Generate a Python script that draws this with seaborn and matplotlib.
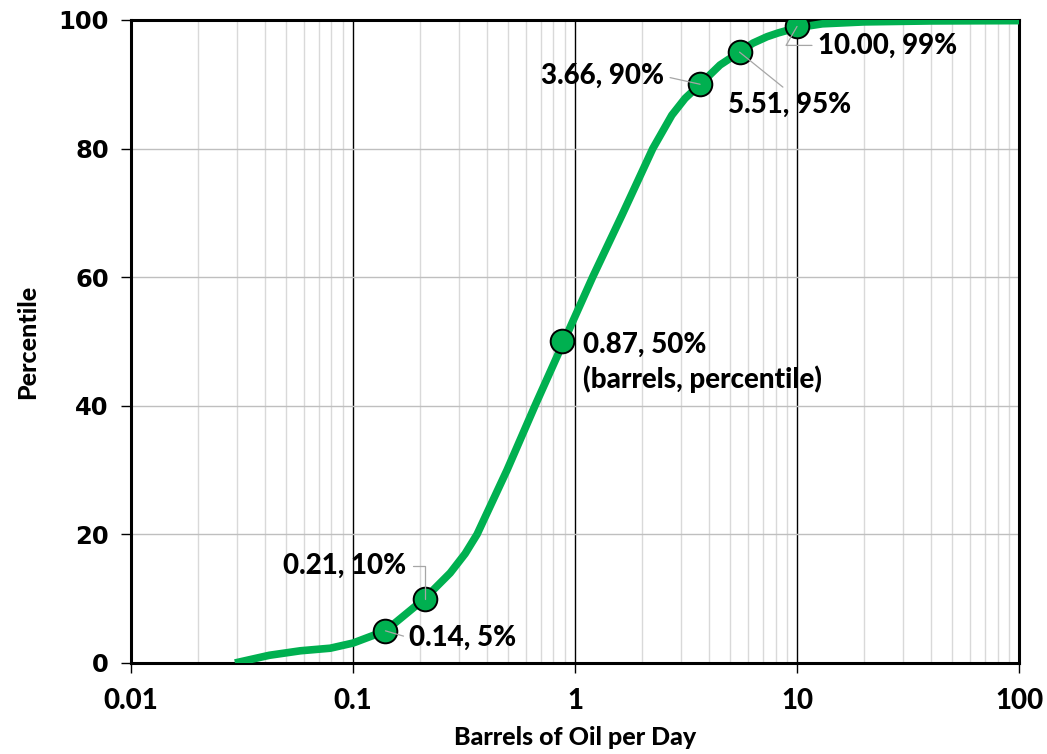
import matplotlib
matplotlib.use("Agg")
import os
import matplotlib.pyplot as plt
from matplotlib.ticker import FixedLocator, LogLocator, NullFormatter, FixedFormatter
from matplotlib import font_manager
from matplotlib.font_manager import FontProperties
import seaborn as sns

# Cumulative distribution of daily oil output per well
curve_bopd = [0.0294, 0.042, 0.058, 0.079, 0.100, 0.14, 0.21, 0.274, 0.32,
              0.362, 0.494, 0.66, 0.89, 1.20, 1.63, 2.24, 2.73, 3.13, 3.66,
              4.50, 5.51, 6.33, 7.33, 8.25, 10.0, 13.0, 20.0, 40.0, 100.0]
curve_pct = [0.0, 1.2, 1.9, 2.3, 3.1, 5.0, 10.0, 14.0, 17.0,
             20.0, 30.0, 40.0, 50.0, 60.0, 69.7, 80.0, 85.2, 87.8, 90.0,
             93.0, 95.0, 96.4, 97.4, 98.0, 98.8, 99.4, 99.7, 99.85, 99.9]

# Highlighted percentiles
key_bopd = [0.14, 0.21, 0.87, 3.66, 5.51, 10.00]
key_pct = [5, 10, 50, 90, 95, 99]

x_ticks = [0.01, 0.1, 1, 10, 100]
x_tick_labels = ["0.01", "0.1", "1", "10", "100"]
y_ticks = [0, 20, 40, 60, 80, 100]

GREEN = "#00B050"

sns.set_theme(style="white")
plt.rcParams["font.family"] = ["DejaVu Sans"]


def heavy_face():
    """Pick a heavy humanist sans face for the chart's text."""
    files = {os.path.basename(f.fname).lower(): f.fname
             for f in font_manager.fontManager.ttflist}
    for want in ["lato-heavy.ttf", "lato-bold.ttf", "opensans-bold.ttf",
                 "notosans-bold.ttf", "roboto-bold.ttf"]:
        if want in files:
            return files[want]
    for f in font_manager.fontManager.ttflist:
        if f.name in ("Lato", "Open Sans", "Noto Sans") and f.weight in (700, "bold"):
            return f.fname
    return None


bold_path = heavy_face()


def label_props(size):
    if bold_path:
        return FontProperties(fname=bold_path, size=size)
    return FontProperties(family="DejaVu Sans", weight="bold", size=size)


fig = plt.figure(figsize=(10.47, 7.54), dpi=100)
ax = fig.add_axes([0.1251, 0.1207, 0.8482, 0.8528])

sns.lineplot(x=curve_bopd, y=curve_pct, ax=ax, color=GREEN, linewidth=5.5,
             sort=False, estimator=None, zorder=3,
             solid_joinstyle="round", solid_capstyle="butt")
sns.scatterplot(x=key_bopd, y=key_pct, ax=ax, s=290, color=GREEN,
                edgecolor="black", linewidth=1.4, zorder=4)

ax.set_xscale("log")
ax.set_xlim(0.01, 100)
ax.set_ylim(0, 100)

# Gridlines: black decades, light grey minor steps, grey percent lines
ax.xaxis.set_major_locator(FixedLocator(x_ticks))
ax.xaxis.set_major_formatter(FixedFormatter(x_tick_labels))
ax.xaxis.set_minor_locator(LogLocator(base=10, subs=range(2, 10), numticks=20))
ax.xaxis.set_minor_formatter(NullFormatter())
ax.yaxis.set_major_locator(FixedLocator(y_ticks))
ax.grid(False)
ax.grid(which="minor", axis="x", color="#d9d9d9", linewidth=1.0, zorder=0)
ax.grid(which="major", axis="x", color="black", linewidth=1.0, zorder=1)
ax.grid(which="major", axis="y", color="#bfbfbf", linewidth=1.0, zorder=1)
ax.set_axisbelow(True)

for side in ax.spines.values():
    side.set_visible(True)
    side.set_color("black")
    side.set_linewidth(2.2)

ax.tick_params(axis="x", which="major", direction="out", length=7, width=1.0,
               color="black", bottom=True, pad=11)
ax.tick_params(axis="x", which="minor", length=0)
ax.tick_params(axis="y", which="major", direction="out", length=7, width=1.0,
               color="black", left=True, pad=9)

for lbl in ax.get_xticklabels():
    lbl.set_fontproperties(label_props(20))
    lbl.set_color("black")
for lbl in ax.get_yticklabels():
    lbl.set_fontproperties(FontProperties(family="DejaVu Sans", weight="bold",
                                          size=17.5))
    lbl.set_color("black")

ax.set_xlabel("Barrels of Oil per Day", fontproperties=label_props(18),
              color="black", labelpad=9)
ax.set_ylabel("Percentile", fontproperties=label_props(18),
              color="black", labelpad=14)

# Point labels: offset in pixels, alignment, leader style
label_style = [
    dict(off=(24, -7), ha="left", rel=(0.0, 0.5), conn="arc3", leader=True),
    dict(off=(-18, 33), ha="right", rel=(1.0, 0.5),
         conn="angle,angleA=0,angleB=90,rad=0", leader=True),
    dict(off=(21, 10), ha="left", rel=(0.0, 0.5), conn="arc3", leader=False),
    dict(off=(-36, 8), ha="right", rel=(1.0, 0.5), conn="arc3", leader=True),
    dict(off=(-12, -53), ha="left", rel=(0.5, 1.0), conn="arc3", leader=True),
    dict(off=(21, -19), ha="left", rel=(0.0, 0.5),
         conn="angle,angleA=0,angleB=60,rad=0", leader=True),
]

for bx, pc, st in zip(key_bopd, key_pct, label_style):
    text = f"{bx:.2f}, {pc}%"
    kw = {}
    if st["leader"]:
        kw["arrowprops"] = dict(arrowstyle="-", color="#a6a6a6", lw=0.9,
                                shrinkA=2, shrinkB=0, relpos=st["rel"],
                                connectionstyle=st["conn"])
    va = "center"
    if pc == 50:
        text = text + "\n(barrels, percentile)"
        va = "top"
    ax.annotate(text, xy=(bx, pc), xycoords="data", xytext=st["off"],
                textcoords="offset pixels", ha=st["ha"], va=va,
                fontproperties=label_props(20), color="black",
                linespacing=1.35, zorder=6, **kw)

fig.savefig("out.png", dpi=100)
